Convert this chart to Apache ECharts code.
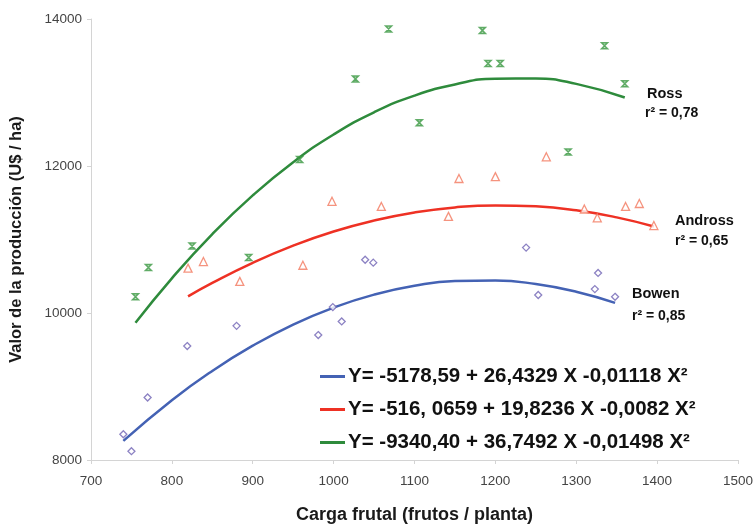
<!DOCTYPE html>
<html>
<head>
<meta charset="utf-8">
<script src="https://cdn.jsdelivr.net/npm/echarts@6/dist/echarts.min.js"></script>
<style>
html,body{margin:0;padding:0;background:#fff;}
#chart{width:756px;height:529px;}
</style>
</head>
<body>
<div id="chart"></div>
<script>
// ---- Data ----
const xTicks = [700, 800, 900, 1000, 1100, 1200, 1300, 1400, 1500];
const yTicks = [8000, 10000, 12000, 14000];

// Observed points: Bowen (diamonds)
const bowenX = [740, 750, 770, 819, 880, 981, 999, 1010, 1039, 1049, 1238, 1253, 1323, 1327, 1348];
const bowenY = [8350, 8120, 8850, 9550, 9825, 9700, 10080, 9885, 10725, 10685, 10890, 10245, 10325, 10545, 10220];

// Observed points: Andross (triangles)
const androssX = [820, 839, 884, 962, 998, 1059, 1142, 1155, 1200, 1263, 1310, 1326, 1361, 1378, 1396];
const androssY = [10610, 10700, 10430, 10650, 11520, 11450, 11315, 11830, 11855, 12125, 11415, 11295, 11450, 11490, 11190];

// Observed points: Ross (x markers)
const rossX = [755, 771, 825, 895, 958, 1027, 1068, 1106, 1184, 1191, 1206, 1290, 1335, 1360];
const rossY = [10220, 10620, 10910, 10755, 12090, 13185, 13865, 12590, 13845, 13395, 13395, 12190, 13635, 13120];

// Fitted curves as drawn
const bowenFitX = [740, 800, 850, 900, 950, 1000, 1050, 1100, 1150, 1200, 1250, 1300, 1348];
const bowenFitY = [8260, 8813, 9212, 9555, 9843, 10074, 10250, 10370, 10434, 10442, 10394, 10290, 10138];
const androssFitX = [820, 850, 900, 950, 1000, 1050, 1100, 1150, 1200, 1250, 1300, 1350, 1396];
const androssFitY = [10226, 10410, 10683, 10916, 11108, 11258, 11368, 11437, 11464, 11451, 11397, 11301, 11177];
const rossFitX = [755, 800, 850, 900, 950, 1000, 1050, 1100, 1150, 1200, 1250, 1300, 1360];
const rossFitY = [9866, 10472, 11073, 11600, 12052, 12429, 12731, 12958, 13110, 13187, 13190, 13117, 12932];

const legendNames = [
  'Y= -5178,59 + 26,4329 X -0,01118 X\u00B2',
  'Y= -516, 0659 + 19,8236 X -0,0082 X\u00B2',
  'Y= -9340,40 + 36,7492 X -0,01498 X\u00B2'
];
const curveLabels = [
  ['Bowen', 'r\u00B2 = 0,85'],
  ['Andross', 'r\u00B2 = 0,65'],
  ['Ross', 'r\u00B2 = 0,78']
];
const xName = 'Carga frutal (frutos / planta)';
const yName = 'Valor de la producción (U$ / ha)';

// ---- Helpers ----
const zip = (a, b) => a.map((v, i) => [v, b[i]]);
const FONT = '"Liberation Sans", Arial, sans-serif';
const cBlue = '#4462b4', cRed = '#ee3124', cGreen = '#2e8b3c';
const mBlue = '#6f63b4', mRed = '#f2785e', mGreen = '#3d9a45';
const hourglass = 'path://M0,0L10,0L0,10L10,10Z';

const chart = echarts.init(document.getElementById('chart'), null, {renderer: 'canvas'});

const option = {
  animation: false,
  backgroundColor: '#fff',
  grid: {left: 91, right: 16, top: 19, bottom: 67, containLabel: false},
  xAxis: {
    type: 'value', min: 700, max: 1500, interval: 100,
    name: xName, nameLocation: 'middle', nameGap: 46,
    nameTextStyle: {fontFamily: FONT, fontWeight: 'bold', fontSize: 18, color: '#1a1a1a'},
    axisLine: {show: true, lineStyle: {color: '#d4d4d4', width: 1}},
    axisTick: {show: true, length: 4, lineStyle: {color: '#d4d4d4'}},
    axisLabel: {fontFamily: FONT, fontSize: 13.5, color: '#444', margin: 14,
      formatter: v => xTicks.includes(v) ? String(v) : ''},
    splitLine: {show: false}
  },
  yAxis: {
    type: 'value', min: 8000, max: 14000, interval: 2000,
    name: yName, nameLocation: 'middle', nameGap: 66,
    nameTextStyle: {fontFamily: FONT, fontWeight: 'bold', fontSize: 16.5, color: '#1a1a1a'},
    axisLine: {show: true, lineStyle: {color: '#d4d4d4', width: 1}},
    axisTick: {show: true, length: 4, lineStyle: {color: '#d4d4d4'}},
    axisLabel: {fontFamily: FONT, fontSize: 13.5, color: '#444', margin: 9,
      formatter: v => yTicks.includes(v) ? String(v) : ''},
    splitLine: {show: false}
  },
  legend: {
    data: legendNames,
    orient: 'vertical',
    left: 315, top: 361,
    icon: 'rect', itemWidth: 25, itemHeight: 3, itemGap: 12,
    textStyle: {fontFamily: FONT, fontWeight: 'bold', fontSize: 20.5, color: '#111', padding: [0, 0, 0, -2]},
    selectedMode: false
  },
  series: [
    {name: legendNames[0], type: 'line', data: zip(bowenFitX, bowenFitY), smooth: true, showSymbol: false, symbol: 'none',
      lineStyle: {color: cBlue, width: 2.5}, itemStyle: {color: cBlue}, z: 3},
    {name: legendNames[1], type: 'line', data: zip(androssFitX, androssFitY), smooth: true, showSymbol: false, symbol: 'none',
      lineStyle: {color: cRed, width: 2.5}, itemStyle: {color: cRed}, z: 3},
    {name: legendNames[2], type: 'line', data: zip(rossFitX, rossFitY), smooth: true, showSymbol: false, symbol: 'none',
      lineStyle: {color: cGreen, width: 2.5}, itemStyle: {color: cGreen}, z: 3},
    {name: 'Bowen', type: 'scatter', data: zip(bowenX, bowenY), symbol: 'diamond', symbolSize: 7,
      itemStyle: {color: '#fff', borderColor: mBlue, borderWidth: 1.3}, z: 4},
    {name: 'Andross', type: 'scatter', data: zip(androssX, androssY), symbol: 'triangle', symbolSize: 8,
      itemStyle: {color: '#fff', borderColor: mRed, borderWidth: 1.3}, z: 4},
    {name: 'Ross', type: 'scatter', data: zip(rossX, rossY), symbol: hourglass, symbolSize: 6,
      itemStyle: {color: 'rgba(61,154,69,0.35)', borderColor: mGreen, borderWidth: 1.5}, z: 4}
  ],
  graphic: [
    {type: 'text', left: 647, top: 86, style: {text: curveLabels[2][0], font: 'bold 14.5px ' + FONT, fill: '#111'}},
    {type: 'text', left: 645, top: 106, style: {text: curveLabels[2][1], font: 'bold 14px ' + FONT, fill: '#111'}},
    {type: 'text', left: 675, top: 213, style: {text: curveLabels[1][0], font: 'bold 14.5px ' + FONT, fill: '#111'}},
    {type: 'text', left: 675, top: 234, style: {text: curveLabels[1][1], font: 'bold 14px ' + FONT, fill: '#111'}},
    {type: 'text', left: 632, top: 286, style: {text: curveLabels[0][0], font: 'bold 14.5px ' + FONT, fill: '#111'}},
    {type: 'text', left: 632, top: 309, style: {text: curveLabels[0][1], font: 'bold 14px ' + FONT, fill: '#111'}}
  ]
};
chart.setOption(option);
</script>
</body>
</html>
